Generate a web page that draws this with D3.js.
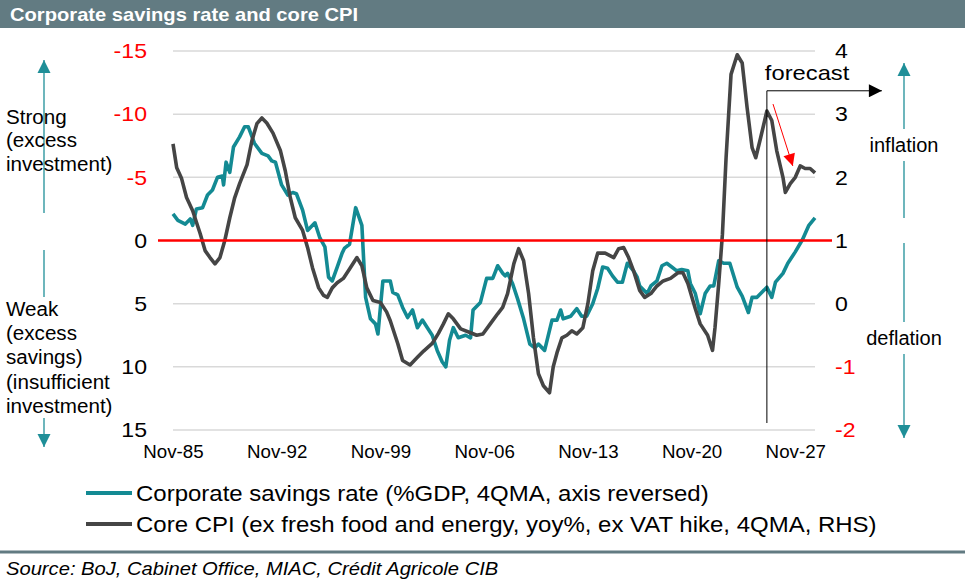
<!DOCTYPE html>
<html lang="en">
<head>
<meta charset="UTF-8">
<script src="https://cdn.jsdelivr.net/npm/d3@7/dist/d3.min.js"></script>
<title>Corporate savings rate and core CPI</title>
<style>
  body { margin: 0; background: #fff; }
  text { font-family: "Liberation Sans", Arial, sans-serif; }
</style>
</head>
<body>
<script>
var width = 965, height = 585;

// corporate savings rate, %GDP, 4QMA (plotted on a reversed left axis)
var savingsDates = ["1985-11","1986-03","1986-09","1987-01","1987-03","1987-06","1987-11","1988-03","1988-07","1988-11",
  "1989-03","1989-04","1989-06","1989-09","1989-12","1990-05","1990-09","1990-12","1991-05","1991-11",
  "1992-04","1992-07","1992-10","1993-03","1993-08","1993-12","1994-03","1994-08","1994-12","1995-06",
  "1995-10","1996-02","1996-05","1996-08","1996-12","1997-04","1997-06","1997-10","1998-03","1998-08",
  "1998-11","1999-03","1999-07","1999-09","2000-01","2000-07","2000-09","2001-01","2001-05","2001-09",
  "2002-01","2002-05","2002-09","2003-01","2003-05","2003-09","2004-01","2004-04","2004-07","2004-10",
  "2005-02","2005-08","2005-12","2006-02","2006-08","2007-01","2007-06","2007-08","2007-10","2008-02",
  "2008-04","2008-06","2008-10","2009-02","2009-07","2009-12","2010-04","2010-07","2010-10","2010-12",
  "2011-06","2011-10","2012-01","2012-03","2012-09","2013-02","2013-06","2013-10","2014-03","2014-07",
  "2014-11","2015-03","2015-07","2015-11","2016-03","2016-07","2016-12","2017-03","2017-05","2017-11",
  "2018-02","2018-07","2018-11","2019-03","2019-07","2019-11","2020-03","2020-08","2020-10","2021-02",
  "2021-06","2021-10","2022-02","2022-05","2022-09","2023-01","2023-06","2023-12","2024-04","2024-09",
  "2024-12","2025-04","2025-08","2025-12","2026-04","2026-07","2027-01","2027-05","2027-11","2028-05",
  "2028-10","2029-03"];
var savingsRate = [-2.1,-1.6,-1.3,-1.7,-1.2,-2.5,-2.6,-3.6,-4.0,-5.0,
  -5.1,-4.4,-6.2,-5.4,-7.4,-8.2,-9.0,-9.0,-7.7,-6.9,
  -6.7,-6.3,-6.2,-4.4,-3.6,-3.8,-3.7,-2.4,-0.8,-1.4,
  -0.2,0.5,2.9,3.2,2.1,1.0,0.6,0.3,-2.6,-1.2,
  4.5,6.2,6.6,7.4,3.2,3.2,4.1,4.3,5.3,6.1,
  5.5,6.9,6.3,6.9,7.5,8.7,9.6,10.0,7.9,6.9,
  7.7,7.5,7.7,5.5,4.9,3.0,3.0,2.5,2.0,2.6,
  2.8,2.6,3.4,4.6,6.2,8.2,8.5,8.2,8.5,8.7,
  6.3,6.3,5.5,6.2,6.0,5.4,6.0,6.0,5.0,3.8,
  2.1,2.2,2.8,3.3,3.3,1.8,2.4,2.9,3.6,4.2,
  3.6,3.2,2.0,1.8,2.1,2.4,2.3,2.4,3.4,4.2,
  5.8,4.2,3.6,3.6,1.6,1.8,1.8,3.7,4.4,5.7,
  4.5,4.5,4.1,3.7,4.5,3.3,2.6,1.8,0.9,-0.1,
  -1.2,-1.8];

// core CPI yoy%, 4QMA (right axis)
var cpiDates = ["1985-11","1986-02","1986-06","1986-10","1987-03","1987-09","1988-01","1988-05","1988-09","1989-01",
  "1989-05","1989-09","1990-01","1990-05","1990-11","1991-03","1991-07","1991-11","1992-03","1992-08",
  "1993-02","1993-06","1993-10","1994-02","1994-08","1994-12","1995-04","1995-09","1996-01","1996-04",
  "1996-08","1996-12","1997-05","1997-10","1998-04","1998-08","1998-12","1999-05","1999-11","2000-04",
  "2000-07","2001-01","2001-05","2001-11","2002-05","2002-10","2003-05","2003-10","2004-02","2004-06",
  "2004-10","2005-04","2005-12","2006-05","2006-10","2007-04","2007-10","2008-02","2008-06","2008-11",
  "2009-03","2009-07","2009-11","2010-03","2010-07","2010-11","2011-04","2011-07","2011-10","2012-02",
  "2012-06","2012-10","2013-02","2013-07","2013-11","2014-03","2014-07","2015-01","2015-08","2015-12",
  "2016-04","2016-08","2016-12","2017-05","2017-09","2018-02","2018-07","2018-12","2019-06","2019-12",
  "2020-04","2020-08","2021-02","2021-06","2021-12","2022-04","2022-06","2022-09","2022-12","2023-03",
  "2023-07","2023-12","2024-04","2024-08","2024-12","2025-03","2025-07","2025-12","2026-04","2026-08",
  "2027-01","2027-03","2027-07","2027-11","2028-03","2028-07","2028-11","2029-03"];
var coreCpi = [2.53,2.15,1.98,1.68,1.47,1.11,0.84,0.73,0.63,0.73,
  1.0,1.36,1.68,1.9,2.2,2.58,2.85,2.94,2.86,2.7,
  2.42,2.1,1.68,1.36,1.16,0.89,0.57,0.25,0.13,0.1,
  0.25,0.33,0.4,0.55,0.73,0.6,0.25,0.05,0.02,-0.13,
  -0.27,-0.63,-0.9,-0.97,-0.85,-0.75,-0.63,-0.47,-0.32,-0.16,
  -0.24,-0.4,-0.46,-0.5,-0.48,-0.32,-0.16,-0.06,0.16,0.63,
  0.87,0.68,0.16,-0.54,-1.11,-1.3,-1.41,-1.0,-0.78,-0.54,
  -0.5,-0.43,-0.48,-0.38,0.0,0.52,0.8,0.8,0.73,0.87,
  0.89,0.73,0.52,0.21,0.1,0.16,0.28,0.36,0.4,0.49,
  0.49,0.32,-0.08,-0.32,-0.5,-0.74,-0.38,0.32,1.1,2.31,
  3.63,3.94,3.81,3.1,2.47,2.31,2.63,3.05,2.9,2.42,
  2.0,1.76,1.9,2.0,2.18,2.14,2.14,2.07];

var leftTicks = [-15, -10, -5, 0, 5, 10, 15];
var rightTicks = [4, 3, 2, 1, 0, -1, -2];
var xTickDates = ["1985-11","1992-11","1999-11","2006-11","2013-11","2020-11","2027-11"];
var forecastStart = "2025-12";
var seriesNames = ["Corporate savings rate (%GDP, 4QMA, axis reversed)",
  "Core CPI (ex fresh food and energy, yoy%, ex VAT hike, 4QMA, RHS)"];

var teal = "#138a93", grey = "#454545", red = "#ff0000", arrowTeal = "#1f8f98";
var parse = d3.timeParse("%Y-%m");

var savings = savingsDates.map(function (d, i) { return { date: parse(d), v: savingsRate[i] }; });
var cpi = cpiDates.map(function (d, i) { return { date: parse(d), v: coreCpi[i] }; });

var x = d3.scaleTime().domain([parse("1985-11"), parse("2029-03")]).range([173, 815]);
var yL = d3.scaleLinear().domain([-15, 15]).range([51, 430]);
var yR = d3.scaleLinear().domain([4, -2]).range([51, 430]);

var svg = d3.select("body").append("svg").attr("width", width).attr("height", height);

// the reference type is a little wider than Arial: widen text in place
function widen(sel, k) {
  sel.each(function () {
    var n = this;
    n.setAttribute("textLength", n.getComputedTextLength() * k);
    n.setAttribute("lengthAdjust", "spacingAndGlyphs");
  });
}

var defs = svg.append("defs");
function marker(id, color, w, h) {
  defs.append("marker").attr("id", id).attr("viewBox", "0 0 10 10")
    .attr("refX", 10).attr("refY", 5).attr("markerUnits", "userSpaceOnUse")
    .attr("markerWidth", w).attr("markerHeight", h).attr("orient", "auto")
    .append("path").attr("d", "M0,0L10,5L0,10Z").attr("fill", color);
}
marker("headTeal", arrowTeal, 13, 14);
marker("headBlack", "#000", 14, 13);
marker("headRed", red, 14, 12);

// title bar
svg.append("rect").attr("x", 0).attr("y", 0).attr("width", width).attr("height", 28).attr("fill", "#627b82");
svg.append("text").attr("x", 10).attr("y", 21).attr("fill", "#fff").style("font-weight", "bold")
  .style("font-size", "19px").text("Corporate savings rate and core CPI").call(widen, 1.06);

// gridlines
svg.append("g").selectAll("line").data(leftTicks.filter(function (d) { return d !== 0; })).enter().append("line")
  .attr("x1", 173).attr("x2", 815).attr("y1", yL).attr("y2", yL)
  .attr("stroke", "#d9d9d9").attr("stroke-width", 1.5);

// axes
var plain = function (d) { return String(d); };
var leftAxis = svg.append("g").attr("transform", "translate(147,0)")
  .call(d3.axisLeft(yL).tickValues(leftTicks).tickFormat(plain).tickSize(0).tickPadding(0));
var rightAxis = svg.append("g").attr("transform", "translate(835,0)")
  .call(d3.axisRight(yR).tickValues(rightTicks).tickFormat(plain).tickSize(0).tickPadding(0));
var bottomAxis = svg.append("g").attr("transform", "translate(0,430)")
  .call(d3.axisBottom(x).tickValues(xTickDates.map(parse)).tickFormat(d3.timeFormat("%b-%y")).tickSize(0).tickPadding(15));
[leftAxis, rightAxis, bottomAxis].forEach(function (g) { g.select(".domain").remove(); });
leftAxis.selectAll("text").style("font-size", "21px").attr("fill", function (d) { return d < 0 ? red : "#000"; }).call(widen, 1.1);
rightAxis.selectAll("text").style("font-size", "21px").attr("fill", function (d) { return d < 0 ? red : "#000"; }).call(widen, 1.1);
bottomAxis.selectAll("text").style("font-size", "18px").attr("fill", "#000").call(widen, 1.04);

// series
var line = function (scale) {
  return d3.line().x(function (d) { return x(d.date); }).y(function (d) { return scale(d.v); });
};
svg.append("path").datum(savings).attr("d", line(yL)).attr("fill", "none")
  .attr("stroke", teal).attr("stroke-width", 3.6).attr("stroke-linejoin", "round");
svg.append("path").datum(cpi).attr("d", line(yR)).attr("fill", "none")
  .attr("stroke", grey).attr("stroke-width", 3.6).attr("stroke-linejoin", "round");

// zero line
svg.append("line").attr("x1", 158).attr("x2", 832).attr("y1", yL(0)).attr("y2", yL(0))
  .attr("stroke", red).attr("stroke-width", 2.5);

// forecast marker
var fx = x(parse(forecastStart));
svg.append("line").attr("x1", fx).attr("x2", fx).attr("y1", yR(3.37)).attr("y2", 423)
  .attr("stroke", "#000").attr("stroke-width", 1);
svg.append("line").attr("x1", fx).attr("x2", fx + 115).attr("y1", yR(3.37)).attr("y2", yR(3.37))
  .attr("stroke", "#000").attr("stroke-width", 1).attr("marker-end", "url(#headBlack)");
svg.append("text").attr("x", fx - 2).attr("y", 80).style("font-size", "21px").text("forecast").call(widen, 1.13);
svg.append("line").attr("x1", x(parse("2026-05"))).attr("y1", yR(3.16))
  .attr("x2", x(parse("2027-09"))).attr("y2", yR(2.18))
  .attr("stroke", red).attr("stroke-width", 1).attr("marker-end", "url(#headRed)");

// left annotation arrows and text
svg.append("line").attr("x1", 44).attr("x2", 44).attr("y1", 213).attr("y2", 60)
  .attr("stroke", arrowTeal).attr("stroke-width", 1.3).attr("marker-end", "url(#headTeal)");
svg.append("line").attr("x1", 44).attr("x2", 44).attr("y1", 250).attr("y2", 297)
  .attr("stroke", arrowTeal).attr("stroke-width", 1.3);
svg.append("line").attr("x1", 44).attr("x2", 44).attr("y1", 418).attr("y2", 447)
  .attr("stroke", arrowTeal).attr("stroke-width", 1.3).attr("marker-end", "url(#headTeal)");
var strongText = ["Strong", "(excess", "investment)"];
var weakText = ["Weak", "(excess", "savings)", "(insufficient", "investment)"];
svg.append("g").selectAll("text").data(strongText).enter().append("text")
  .attr("x", 6).attr("y", function (d, i) { return 124 + i * 23.3; }).style("font-size", "20px")
  .text(function (d) { return d; }).call(widen, 1.03);
svg.append("g").selectAll("text").data(weakText).enter().append("text")
  .attr("x", 6).attr("y", function (d, i) { return 316 + i * 24.2; }).style("font-size", "20px")
  .text(function (d) { return d; }).call(widen, 1.03);

// right annotation arrows and text
svg.append("line").attr("x1", 904).attr("x2", 904).attr("y1", 218).attr("y2", 63)
  .attr("stroke", arrowTeal).attr("stroke-width", 1.3).attr("marker-end", "url(#headTeal)");
svg.append("line").attr("x1", 904).attr("x2", 904).attr("y1", 243).attr("y2", 438)
  .attr("stroke", arrowTeal).attr("stroke-width", 1.3).attr("marker-end", "url(#headTeal)");
[["inflation", 145], ["deflation", 338]].forEach(function (t) {
  svg.append("rect").attr("x", 864).attr("y", t[1] - 16).attr("width", 80).attr("height", 32).attr("fill", "#fff");
  svg.append("text").attr("x", 904).attr("y", t[1]).attr("dy", "0.35em").attr("text-anchor", "middle")
    .style("font-size", "20px").text(t[0]);
});

// legend
var legend = svg.append("g").selectAll("g").data(seriesNames).enter().append("g")
  .attr("transform", function (d, i) { return "translate(0," + (493 + i * 31) + ")"; });
legend.append("line").attr("x1", 86).attr("x2", 132).attr("y1", 0).attr("y2", 0)
  .attr("stroke", function (d, i) { return i === 0 ? teal : grey; }).attr("stroke-width", 4);
legend.append("text").attr("x", 136).attr("dy", "0.35em").style("font-size", "22px")
  .text(function (d) { return d; }).call(widen, 1.09);

// footer
svg.append("line").attr("x1", 0).attr("x2", width).attr("y1", 552).attr("y2", 552)
  .attr("stroke", "#627b82").attr("stroke-width", 3);
svg.append("text").attr("x", 6).attr("y", 575).style("font-size", "18px").style("font-style", "italic")
  .text("Source: BoJ, Cabinet Office, MIAC, Crédit Agricole CIB").call(widen, 1.12);
</script>
</body>
</html>
